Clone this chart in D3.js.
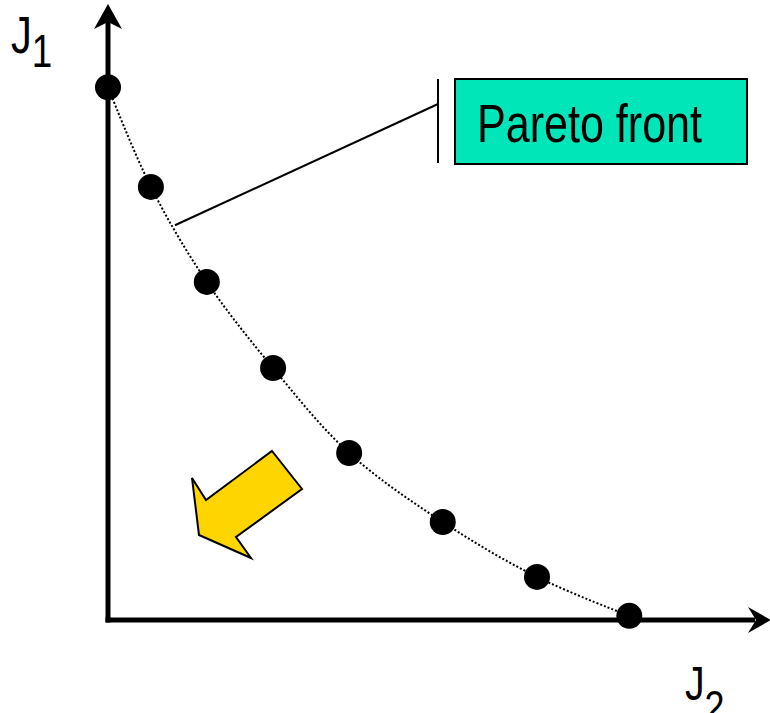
<!DOCTYPE html>
<html>
<head>
<meta charset="utf-8">
<script src="https://cdn.jsdelivr.net/npm/d3@7"></script>
<style>
  html, body { margin: 0; padding: 0; background: #fff; }
  svg { display: block; }
  text { font-family: "Liberation Sans", Arial, sans-serif; }
</style>
</head>
<body>
<svg id="chart"></svg>
<script>
// Pareto front points (J2 along x, J1 up y)
const j2Values = [0, 0.66, 1.52, 2.54, 3.71, 5.15, 6.6, 8.02];
const j1Values = [9.03, 7.34, 5.73, 4.27, 2.83, 1.66, 0.73, 0.07];

// where the callout line touches the curve
const calloutAnchor = { j2: 1.03, j1: 6.69 };
const calloutText = "Pareto front";

const width = 770, height = 713;

const svg = d3.select("#chart")
    .attr("width", width)
    .attr("height", height);

// scales: 65 px per unit on x, 59 px per unit on y
const xScale = d3.scaleLinear().domain([0, 10.2]).range([108, 771]);
const yScale = d3.scaleLinear().domain([0, 10.44]).range([620, 4]);

const points = j2Values.map((d, i) => ({ j2: d, j1: j1Values[i] }));

// dotted front curve
svg.append("path")
    .datum(points)
    .attr("fill", "none")
    .attr("stroke", "#000")
    .attr("stroke-width", 2)
    .attr("stroke-dasharray", "2,2")
    .attr("d", d3.line()
        .x(d => xScale(d.j2))
        .y(d => yScale(d.j1))
        .curve(d3.curveCatmullRom));

// axes
const x0 = xScale(0), y0 = yScale(0);
const xEnd = xScale.range()[1], yEnd = yScale.range()[1];

svg.append("line")
    .attr("x1", x0).attr("y1", y0 + 2.5)
    .attr("x2", x0).attr("y2", yEnd + 18)
    .attr("stroke", "#000").attr("stroke-width", 5);
svg.append("line")
    .attr("x1", x0 - 2.5).attr("y1", y0)
    .attr("x2", xEnd - 16).attr("y2", y0)
    .attr("stroke", "#000").attr("stroke-width", 5);

// arrow heads
svg.append("path")
    .attr("d", `M${x0},${yEnd} L${x0 + 14},${yEnd + 25} L${x0},${yEnd + 18} L${x0 - 14},${yEnd + 25} Z`)
    .attr("fill", "#000");
svg.append("path")
    .attr("d", `M${xEnd},${y0} L${xEnd - 23},${y0 - 13} L${xEnd - 15},${y0} L${xEnd - 23},${y0 + 13} Z`)
    .attr("fill", "#000");

// points
svg.selectAll(".pt")
    .data(points)
    .join("circle")
    .attr("class", "pt")
    .attr("cx", d => xScale(d.j2))
    .attr("cy", d => yScale(d.j1))
    .attr("r", 13)
    .attr("fill", "#000");

// callout
const ax = xScale(calloutAnchor.j2), ay = yScale(calloutAnchor.j1);
svg.append("line")
    .attr("x1", ax).attr("y1", ay)
    .attr("x2", 438).attr("y2", 104)
    .attr("stroke", "#000").attr("stroke-width", 2);
svg.append("line")
    .attr("x1", 438).attr("y1", 79)
    .attr("x2", 438).attr("y2", 163)
    .attr("stroke", "#000").attr("stroke-width", 2);

svg.append("rect")
    .attr("x", 455).attr("y", 79)
    .attr("width", 292).attr("height", 85)
    .attr("fill", "#00e6b9")
    .attr("stroke", "#000").attr("stroke-width", 2);
svg.append("text")
    .attr("x", 477).attr("y", 142)
    .attr("font-size", 54)
    .attr("textLength", 225)
    .attr("lengthAdjust", "spacingAndGlyphs")
    .text(calloutText);

// yellow "improving" arrow
const bigArrow = [[272, 451], [302, 489], [236, 537], [251, 558], [199, 535], [192, 478], [206, 500]];
svg.append("path")
    .attr("d", d3.line()(bigArrow) + "Z")
    .attr("fill", "#ffd500")
    .attr("stroke", "#000")
    .attr("stroke-width", 2)
    .attr("stroke-linejoin", "miter");

// axis labels, squeezed like a narrow face
const j1Label = svg.append("text").attr("transform", "translate(11,53) scale(0.8,1)");
j1Label.append("tspan").attr("font-size", 52).text("J");
j1Label.append("tspan").attr("font-size", 46).attr("dy", 14).text("1");

const j2Label = svg.append("text").attr("transform", "translate(685,700) scale(0.8,1)");
j2Label.append("tspan").attr("font-size", 49).text("J");
j2Label.append("tspan").attr("font-size", 45).attr("dy", 22).text("2");
</script>
</body>
</html>
